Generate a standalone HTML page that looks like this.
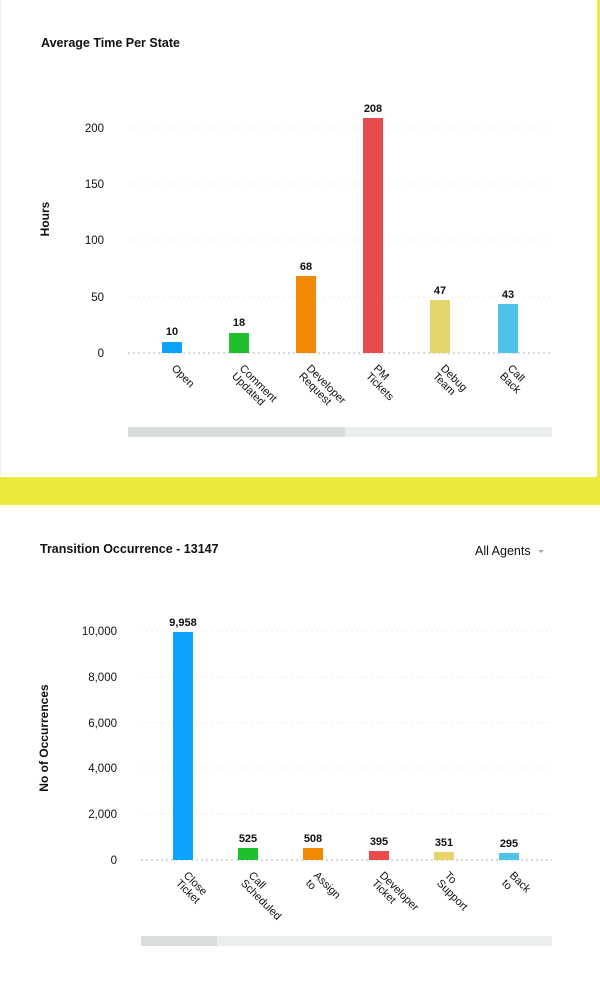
<!DOCTYPE html>
<html><head><style>
body{margin:0;background:#fff;width:600px;height:985px;overflow:hidden;font-family:"Liberation Sans",sans-serif}
</style></head><body>
<svg width="600" height="985" xmlns="http://www.w3.org/2000/svg" font-family="Liberation Sans, sans-serif">
<rect x="0" y="0" width="600" height="985" fill="#fff"/>
<rect x="597" y="0" width="3" height="478" fill="#e9ea39"/>
<rect x="0" y="477" width="600" height="28" fill="#e9ea39"/>
<line x1="0.5" y1="0" x2="0.5" y2="477" stroke="#f3f3e0"/>

<!-- Chart 1 -->
<text x="41" y="47" font-size="12.5" font-weight="bold" fill="#111">Average Time Per State</text>
<text transform="translate(49,219) rotate(-90)" font-size="12" font-weight="bold" fill="#111" text-anchor="middle">Hours</text>
<g font-size="11.5" fill="#111" text-anchor="end">
<text x="104" y="357">0</text><text x="104" y="301">50</text><text x="104" y="244">100</text><text x="104" y="188">150</text><text x="104" y="132">200</text>
</g>
<g stroke="#eee" stroke-dasharray="2,3">
<line x1="128" y1="297" x2="552" y2="297"/><line x1="128" y1="240" x2="552" y2="240"/><line x1="128" y1="184" x2="552" y2="184"/><line x1="128" y1="128" x2="552" y2="128"/>
</g>
<line x1="128" y1="353" x2="552" y2="353" stroke="#ccc" stroke-width="1.5" stroke-dasharray="2,3"/>
<rect x="162" y="342" width="20" height="11" fill="#0ca3ff"/>
<rect x="229" y="333" width="20" height="20" fill="#21bf2b"/>
<rect x="296" y="276" width="20" height="77" fill="#f08a04"/>
<rect x="363" y="118" width="20" height="235" fill="#e84b4b"/>
<rect x="430" y="300" width="20" height="53" fill="#e5d56b"/>
<rect x="498" y="304" width="20" height="49" fill="#4fc2e7"/>
<g font-size="11" font-weight="bold" fill="#111" text-anchor="middle">
<text x="172" y="335">10</text><text x="239" y="326">18</text><text x="306" y="270">68</text><text x="373" y="112">208</text><text x="440" y="294">47</text><text x="508" y="298">43</text>
</g>
<g font-size="11" fill="#111">
<text transform="translate(171,369) rotate(45)">Open</text>
<text transform="translate(239,369) rotate(45)">Comment<tspan x="0" dy="11">Updated</tspan></text>
<text transform="translate(306,369) rotate(45)">Developer<tspan x="0" dy="11">Request</tspan></text>
<text transform="translate(373,369) rotate(45)">PM<tspan x="0" dy="11">Tickets</tspan></text>
<text transform="translate(440,369) rotate(45)">Debug<tspan x="0" dy="11">Team</tspan></text>
<text transform="translate(507,369) rotate(45)">Call<tspan x="0" dy="11">Back</tspan></text>
</g>
<rect x="128" y="427" width="424" height="10" fill="#ebeeee"/>
<rect x="128" y="427" width="217" height="10" fill="#d9dcdc"/>

<!-- Chart 2 -->
<text x="40" y="553" font-size="12.5" font-weight="bold" fill="#111">Transition Occurrence - 13147</text>
<text x="475" y="555" font-size="12.5" fill="#111">All Agents</text>
<path d="M538 550 l3 3 l3 -3z" fill="#aaa"/>
<text transform="translate(48,738) rotate(-90)" font-size="12" font-weight="bold" fill="#111" text-anchor="middle">No of Occurrences</text>
<g font-size="11.5" fill="#111" text-anchor="end">
<text x="117" y="864">0</text><text x="117" y="818">2,000</text><text x="117" y="772">4,000</text><text x="117" y="727">6,000</text><text x="117" y="681">8,000</text><text x="117" y="635">10,000</text>
</g>
<g stroke="#eee" stroke-dasharray="2,3">
<line x1="141" y1="814" x2="552" y2="814"/><line x1="141" y1="768" x2="552" y2="768"/><line x1="141" y1="723" x2="552" y2="723"/><line x1="141" y1="677" x2="552" y2="677"/><line x1="141" y1="631" x2="552" y2="631"/>
</g>
<line x1="141" y1="860" x2="552" y2="860" stroke="#ccc" stroke-width="1.5" stroke-dasharray="2,3"/>
<rect x="173" y="632" width="20" height="228" fill="#0ca3ff"/>
<rect x="238" y="848" width="20" height="12" fill="#21bf2b"/>
<rect x="303" y="848" width="20" height="12" fill="#f08a04"/>
<rect x="369" y="851" width="20" height="9" fill="#e84b4b"/>
<rect x="434" y="852" width="20" height="8" fill="#e5d56b"/>
<rect x="499" y="853" width="20" height="7" fill="#4fc2e7"/>
<g font-size="11" font-weight="bold" fill="#111" text-anchor="middle">
<text x="183" y="626">9,958</text><text x="248" y="842">525</text><text x="313" y="842">508</text><text x="379" y="845">395</text><text x="444" y="846">351</text><text x="509" y="847">295</text>
</g>
<g font-size="11" fill="#111">
<text transform="translate(183,876) rotate(45)">Close<tspan x="0" dy="11">Ticket</tspan></text>
<text transform="translate(248,876) rotate(45)">Call<tspan x="0" dy="11">Scheduled</tspan></text>
<text transform="translate(313,876) rotate(45)">Assign<tspan x="0" dy="11">to</tspan></text>
<text transform="translate(379,876) rotate(45)">Developer<tspan x="0" dy="11">Ticket</tspan></text>
<text transform="translate(444,876) rotate(45)">To<tspan x="0" dy="11">Support</tspan></text>
<text transform="translate(509,876) rotate(45)">Back<tspan x="0" dy="11">to</tspan></text>
</g>
<rect x="141" y="936" width="411" height="10" fill="#ebeeee"/>
<rect x="141" y="936" width="76" height="10" fill="#d9dcdc"/>
</svg>
</body></html>
